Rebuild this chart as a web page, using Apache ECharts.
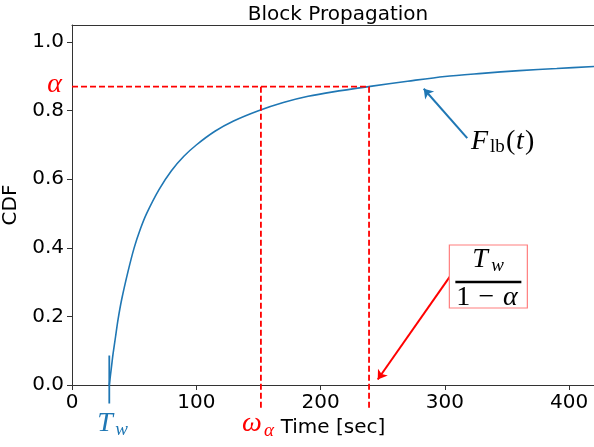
<!DOCTYPE html>
<html>
<head>
<meta charset="utf-8">
<script src="https://cdn.jsdelivr.net/npm/echarts@6/dist/echarts.min.js"></script>
<style>
html, body { margin: 0; padding: 0; background: #fff; }
#main { width: 594px; height: 447px; }
</style>
</head>
<body>
<div id="main"></div>
<script>
// curve
var timeSec = [30, 31, 32, 33, 35, 37, 40, 45, 50, 55, 60, 70, 80, 90, 100, 115, 130, 150, 170, 190, 210, 240, 270, 300, 330, 360, 390, 420];
var cdfVals = [0, 0.03, 0.06, 0.09, 0.14, 0.19, 0.25, 0.33, 0.40, 0.455, 0.50, 0.57, 0.625, 0.667, 0.70, 0.74, 0.77, 0.80, 0.824, 0.842, 0.855, 0.871, 0.886, 0.90, 0.909, 0.917, 0.923, 0.929];
var waitTime = 30;      // T_w
var alphaLevel = 0.87;  // alpha
var omegaTime = 152;    // omega_alpha
var boundTime = 239;    // T_w / (1 - alpha)
var xRange = [0, 420];
var yRange = [0, 1.05];

var blue = '#1f77b4';
var red = '#ff0000';
var mathFont = '"Liberation Serif", "DejaVu Serif", serif';

var curve = [];
for (var i = 0; i < timeSec.length; i++) {
	curve.push([timeSec[i], cdfVals[i]]);
}

var chart = echarts.init(document.getElementById('main'));
var option = {
	animation : false,
	textStyle : { fontFamily : '"DejaVu Sans", sans-serif' },
	title : {
		text : 'Block Propagation',
		left : 333,
		top : 0,
		textAlign : 'center',
		textStyle : { fontSize : 20, fontWeight : 'normal', color : '#000' }
	},
	grid : {
		left : 72,
		right : 0,
		top : 25,
		bottom : 62,
		outerBoundsMode : 'none'
	},
	xAxis : [ {
		type : 'value',
		min : xRange[0],
		max : xRange[1],
		interval : 100,
		name : 'Time [sec]',
		nameLocation : 'middle',
		nameGap : 29,
		nameTextStyle : { fontSize : 20, color : '#000' },
		axisLine : { lineStyle : { color : '#333', width : 1 } },
		axisTick : { show : true, length : 5, lineStyle : { color : '#333' } },
		axisLabel : { fontSize : 20, color : '#000', margin : 8, showMaxLabel : false },
		splitLine : { show : false }
	}, {
		type : 'value',
		position : 'top',
		min : xRange[0],
		max : xRange[1],
		axisLine : { show : true, lineStyle : { color : '#333', width : 1 } },
		axisTick : { show : false },
		axisLabel : { show : false },
		splitLine : { show : false }
	} ],
	yAxis : {
		type : 'value',
		min : yRange[0],
		max : yRange[1],
		interval : 0.2,
		name : 'CDF',
		nameLocation : 'middle',
		nameGap : 45,
		nameTextStyle : { fontSize : 20, color : '#000' },
		axisLine : { show : true, lineStyle : { color : '#333', width : 1 } },
		axisTick : { show : true, length : 5, lineStyle : { color : '#333' } },
		axisLabel : {
			fontSize : 20,
			color : '#000',
			margin : 8,
			showMaxLabel : false,
			formatter : function(v) { return v.toFixed(1); }
		},
		splitLine : { show : false }
	},
	series : [ {
		name : 'F_lb',
		type : 'line',
		data : curve,
		showSymbol : false,
		symbol : 'none',
		smooth : 0.3,
		lineStyle : { color : blue, width : 1.6 }
	}, {
		// T_w marker
		type : 'line',
		data : [ [ waitTime, -0.054 ], [ waitTime, 0.086 ] ],
		clip : false,
		symbol : 'none',
		lineStyle : { color : blue, width : 1.8 },
		markLine : {
			silent : true,
			symbol : [ 'none', 'arrow' ],
			symbolSize : 9,
			label : { show : false },
			data : [
				[ { coord : [ 318, 0.72 ], lineStyle : { color : blue, width : 2, type : 'solid' } }, { coord : [ 283, 0.864 ] } ],
				[ { coord : [ 304, 0.316 ], lineStyle : { color : red, width : 2, type : 'solid' } }, { coord : [ 246, 0.016 ] } ]
			]
		}
	}, {
		// alpha level and the bound
		type : 'line',
		data : [ [ xRange[0], alphaLevel ], [ boundTime, alphaLevel ], [ boundTime, -0.066 ] ],
		clip : false,
		symbol : 'none',
		lineStyle : { color : red, width : 1.8, type : [ 6, 3 ] }
	}, {
		type : 'line',
		data : [ [ omegaTime, alphaLevel ], [ omegaTime, -0.066 ] ],
		clip : false,
		symbol : 'none',
		lineStyle : { color : red, width : 1.8, type : [ 6, 3 ] }
	} ]
};
chart.setOption(option);

function px(x, y) {
	return chart.convertToPixel({ seriesIndex : 0 }, [ x, y ]);
}
function txt(x, y, s, size, color, italic, align) {
	return {
		type : 'text',
		x : x,
		y : y,
		z : 100,
		style : {
			text : s,
			fill : color,
			font : (italic ? 'italic ' : '') + size + 'px ' + mathFont,
			align : align || 'left',
			verticalAlign : 'middle'
		}
	};
}

var pA = px(0, alphaLevel);
var pW = px(omegaTime, 0);
var pT = px(waitTime, 0);
var pF = px(321, 0.71);
var pB = px(335, 0.315);

chart.setOption({
	graphic : [
		txt(pA[0] - 10, pA[1] - 2, 'α', 28, red, true, 'right'),
		{ type : 'group', x : pW[0], y : pW[1], children : [
			txt(-19, 39, 'ω', 28, red, true),
			txt(3, 46, 'α', 19, red, true)
		] },
		{ type : 'group', x : pT[0], y : pT[1], children : [
			txt(-12, 39, 'T', 28, blue, true),
			txt(6, 45, 'w', 19, blue, true)
		] },
		{ type : 'group', x : pF[0], y : pF[1], children : [
			txt(0, 0, 'F', 28, '#000', true),
			txt(19, 5, 'lb', 19, '#000', false),
			txt(35, 0, '(', 28, '#000', false),
			txt(45, 0, 't', 28, '#000', true),
			txt(54, 0, ')', 28, '#000', false)
		] },
		{ type : 'group', x : pB[0], y : pB[1], z : 90, children : [
			{ type : 'rect', z : 90, shape : { x : -39, y : -32, width : 78, height : 63 },
				style : { fill : '#fff', stroke : '#ff7f7f', lineWidth : 1.2 } },
			txt(-16, -17, 'T', 28, '#000', true),
			txt(3, -11, 'w', 19, '#000', true),
			{ type : 'line', z : 100, shape : { x1 : -33, y1 : 5, x2 : 33, y2 : 5 },
				style : { stroke : '#000', lineWidth : 2.5 } },
			txt(-25, 21, '1', 28, '#000', false, 'center'),
			txt(-2, 21, '−', 28, '#000', false, 'center'),
			txt(22, 21, 'α', 28, '#000', true, 'center')
		] }
	]
});
window.onresize = chart.resize;
</script>
</body>
</html>
